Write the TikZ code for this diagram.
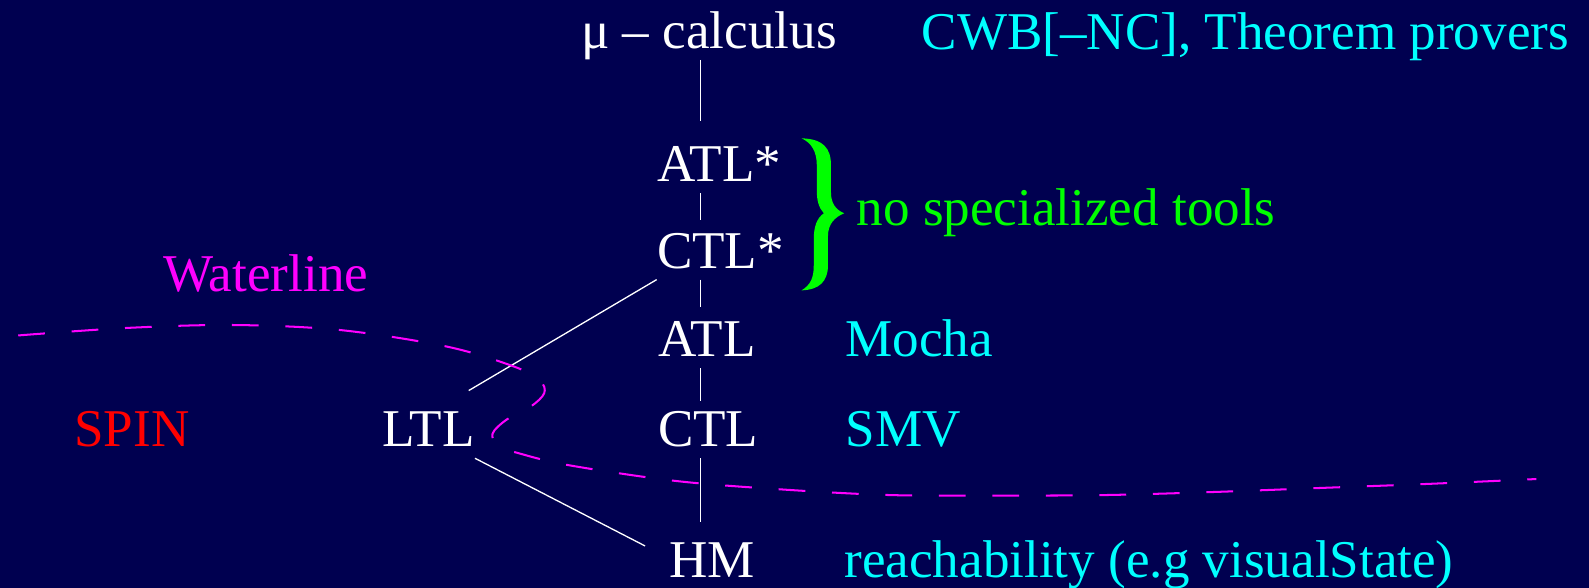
\documentclass[tikz,border=0pt]{standalone}
\usepackage{fontspec}
\setmainfont{Liberation Serif}
\definecolor{slidebg}{RGB}{0,0,80}
\definecolor{toolcyan}{RGB}{0,255,255}
\definecolor{bracegreen}{RGB}{0,255,0}
\definecolor{watermagenta}{RGB}{255,0,255}
\begin{document}
\begin{tikzpicture}[x=0.5pt,y=-0.5pt,
  every node/.style={anchor=base west, inner xsep=0pt, inner ysep=5.5pt,
    text depth=0pt, font=\fontsize{26.2pt}{30pt}\selectfont},
  logic/.style={text=white},
  tool/.style={text=toolcyan},
  link/.style={draw=white, line width=0.65pt},
  waterline/.style={draw=watermagenta, line width=1pt,
    dash pattern=on 13.2pt off 13.2pt}]

% slide background
\useasboundingbox (0,0) rectangle (1568,580);
\fill[slidebg] (0,0) rectangle (1568,580);

% logics (white) and their tools (coloured)
\node[logic] (mu) at (573,47.7) {μ – calculus};
\node[tool] (cwb) at (909,48.7) {CWB[–NC], Theorem provers};
\node[logic, text height=24.15pt] (atls) at (648,179.3) {ATL*};
\node[logic, text height=18.25pt] (ctls) at (648,264.5) {CTL*};
\node[text=bracegreen] (nospec) at (845,223) {no specialized tools};
\node[text=watermagenta] (water) at (160.5,287.8) {Waterline};
\node[logic, text height=19pt] (atl) at (649,352) {ATL};
\node[tool] (mocha) at (834,352) {Mocha};
\node[text=red] (spin) at (73,440.8) {SPIN};
\node[logic, text height=22pt] (ltl) at (376.7,440.8) {LTL};
\node[logic, text height=16.9pt] (ctl) at (649,440.8) {CTL};
\node[tool] (smv) at (834,440.8) {SMV};
\node[logic, text height=22pt, inner xsep=11.75pt] (hm) at (636.5,570) {HM};
\node[tool] (reach) at (833,570) {reachability (e.g visualState)};

% vertical chain of logics
\coordinate (spine) at (691,0);
\draw[link] (mu.south -| spine) -- (atls.north -| spine);
\draw[link] (atls.south -| spine) -- (ctls.north -| spine);
\draw[link] (ctls.south -| spine) -- (atl.north -| spine);
\draw[link] (atl.south -| spine) -- (ctl.north -| spine);
\draw[link] (ctl.south -| spine) -- (hm.north -| spine);

% LTL branches
\draw[link] (ltl.40) -- (ctls.south west);
\draw[link] (ltl.south east) -- (hm.172);

% curly brace grouping ATL* and CTL*
\fill[bracegreen]
  (791,136.5) .. controls (812,137) and (820,146) .. (820,163)
  -- (820,190) .. controls (820,201) and (825,207) .. (833,210.5)
  .. controls (824,214) and (817,221) .. (817,233)
  -- (817,262) .. controls (817,278) and (808,286) .. (791,286.5)
  .. controls (800,281) and (803,274) .. (803,262)
  -- (803,236) .. controls (803,224) and (806,215) .. (813,210.5)
  .. controls (808,205) and (806,198) .. (806,188)
  -- (806,163) .. controls (806,150) and (801,141) .. (791,136.5) -- cycle;

% the waterline
\draw[waterline] plot[smooth, tension=0.55] coordinates {
  (18,331) (123,323.7) (229,320.7) (335,325.6) (441,342) (508,362)
  (533,376) (537,388) (524,401) (500,414) (486,428) (492,440) (511,447)
  (561,459) (667,474.6) (772,483) (878,488.5) (984,489) (1090,488.5)
  (1197,485.5) (1303,481.5) (1409,477.5) (1516,472.7)};
\end{tikzpicture}
\end{document}
